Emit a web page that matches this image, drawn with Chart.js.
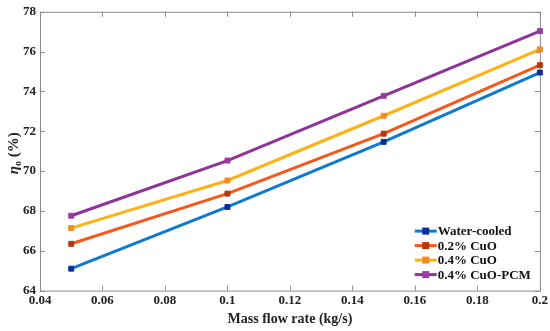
<!DOCTYPE html>
<html>
<head>
<meta charset="utf-8">
<script src="https://cdn.jsdelivr.net/npm/chart.js@4.4.0/dist/chart.umd.min.js"></script>
<style>
  html, body { margin: 0; padding: 0; background: #fff; }
  #wrap { width: 550px; height: 331px; }
</style>
</head>
<body>
<div id="wrap"><canvas id="eff"></canvas></div>
<script>
const flowRates = [0.05, 0.1, 0.15, 0.2];
const seriesNames = ["Water-cooled", "0.2% CuO", "0.4% CuO", "0.4% CuO-PCM"];
const waterCooled = [65.1, 68.2, 71.47, 74.95];
const cuo02 = [66.35, 68.87, 71.88, 75.32];
const cuo04 = [67.14, 69.53, 72.78, 76.11];
const cuo04pcm = [67.76, 70.53, 73.78, 77.03];
const lineColors = ["#0d7ad0", "#f4581c", "#fcb315", "#8e3398"];
const markerColors = ["#0c2f96", "#b8350e", "#f58a1e", "#9a3aa4"];

const serif = "'Liberation Serif', 'Times New Roman', serif";

const toPoints = (vals) => vals.map((v, i) => ({ x: flowRates[i], y: v }));

const data = {
    datasets: [waterCooled, cuo02, cuo04, cuo04pcm].map((vals, i) => ({
        label: seriesNames[i],
        data: toPoints(vals),
        borderColor: lineColors[i],
        backgroundColor: markerColors[i],
        pointBackgroundColor: markerColors[i],
        pointBorderColor: markerColors[i],
        pointStyle: "rect",
        pointRadius: 3.5,
        pointBorderWidth: 1,
        borderWidth: 3,
        tension: 0,
        clip: false,
    })),
};

// box frame with inward ticks on all sides
const framePlugin = {
    id: "frame",
    beforeDatasetsDraw(chart) {
        const { ctx, chartArea: a, scales } = chart;
        ctx.save();
        ctx.strokeStyle = "#8c8c8c";
        ctx.lineWidth = 1;
        ctx.strokeRect(a.left + 0.5, a.top + 0.5, a.right - a.left, a.bottom - a.top);
        const len = 5;
        ctx.beginPath();
        scales.x.ticks.forEach((t) => {
            const px = Math.round(scales.x.getPixelForValue(t.value)) + 0.5;
            ctx.moveTo(px, a.bottom); ctx.lineTo(px, a.bottom - len);
            ctx.moveTo(px, a.top); ctx.lineTo(px, a.top + len);
        });
        scales.y.ticks.forEach((t) => {
            const py = Math.round(scales.y.getPixelForValue(t.value)) + 0.5;
            ctx.moveTo(a.left, py); ctx.lineTo(a.left + len, py);
            ctx.moveTo(a.right, py); ctx.lineTo(a.right - len, py);
        });
        ctx.stroke();
        ctx.restore();
    },
    afterDraw(chart) {
        const { ctx, chartArea: a } = chart;
        // y axis title: eta with subscript o
        ctx.save();
        ctx.translate(13, (a.top + a.bottom) / 2 + 2);
        ctx.rotate(-Math.PI / 2);
        ctx.fillStyle = "#222";
        ctx.textBaseline = "alphabetic";
        const big = "bold 15px " + serif;
        const bigIt = "italic bold 15px " + serif;
        const small = "bold 10px " + serif;
        ctx.font = bigIt; const w1 = ctx.measureText("\u03b7").width;
        ctx.font = small; const w2 = ctx.measureText("o").width;
        ctx.font = big; const w3 = ctx.measureText(" (%)").width;
        let x = -(w1 + w2 + w3) / 2;
        const base = 5;
        ctx.font = bigIt; ctx.fillText("\u03b7", x, base); x += w1;
        ctx.font = small; ctx.fillText("o", x, base + 3); x += w2;
        ctx.font = big; ctx.fillText(" (%)", x, base);
        ctx.restore();

        // legend inside, bottom right
        ctx.save();
        ctx.font = "bold 13px " + serif;
        ctx.textBaseline = "middle";
        ctx.fillStyle = "#111";
        const textW = Math.max(...chart.data.datasets.map((d) => ctx.measureText(d.label).width));
        const segW = 22;
        const rowH = 14.5;
        const n = chart.data.datasets.length;
        const x0 = a.right - 8 - textW - segW - 2;
        const y0 = a.bottom - 16 - (n - 1) * rowH;
        chart.data.datasets.forEach((d, i) => {
            const y = y0 + i * rowH;
            ctx.strokeStyle = d.borderColor;
            ctx.lineWidth = 3;
            ctx.beginPath();
            ctx.moveTo(x0, y); ctx.lineTo(x0 + segW, y);
            ctx.stroke();
            ctx.fillStyle = d.pointBackgroundColor;
            ctx.fillRect(x0 + segW / 2 - 3.5, y - 3.5, 7, 7);
            ctx.fillStyle = "#111";
            ctx.fillText(d.label, x0 + segW + 1, y + 1);
        });
        ctx.restore();
    },
};

new Chart(document.getElementById("eff"), {
    type: "line",
    data: data,
    options: {
        responsive: true,
        maintainAspectRatio: false,
        animation: false,
        layout: { padding: { top: 7, right: 10, left: 0, bottom: 0 } },
        plugins: { legend: { display: false }, tooltip: { enabled: false } },
        scales: {
            x: {
                type: "linear",
                min: 0.04,
                max: 0.2,
                ticks: {
                    stepSize: 0.02,
                    color: "#222",
                    font: { family: serif, size: 13, weight: "bold" },
                    padding: 2,
                    maxRotation: 0,
                    callback: (v) => String(+v.toFixed(2)),
                },
                grid: { display: false, drawTicks: false },
                border: { display: false },
                title: {
                    display: true,
                    text: "Mass flow rate (kg/s)",
                    color: "#222",
                    font: { family: serif, size: 14, weight: "bold" },
                    padding: { top: 1, bottom: 3 },
                },
            },
            y: {
                min: 64,
                max: 78,
                ticks: {
                    stepSize: 2,
                    color: "#222",
                    font: { family: serif, size: 13, weight: "bold" },
                    padding: 4,
                },
                grid: { display: false, drawTicks: false },
                border: { display: false },
                afterFit: (s) => { s.width = 40; },
            },
        },
    },
    plugins: [framePlugin],
});
</script>
</body>
</html>
